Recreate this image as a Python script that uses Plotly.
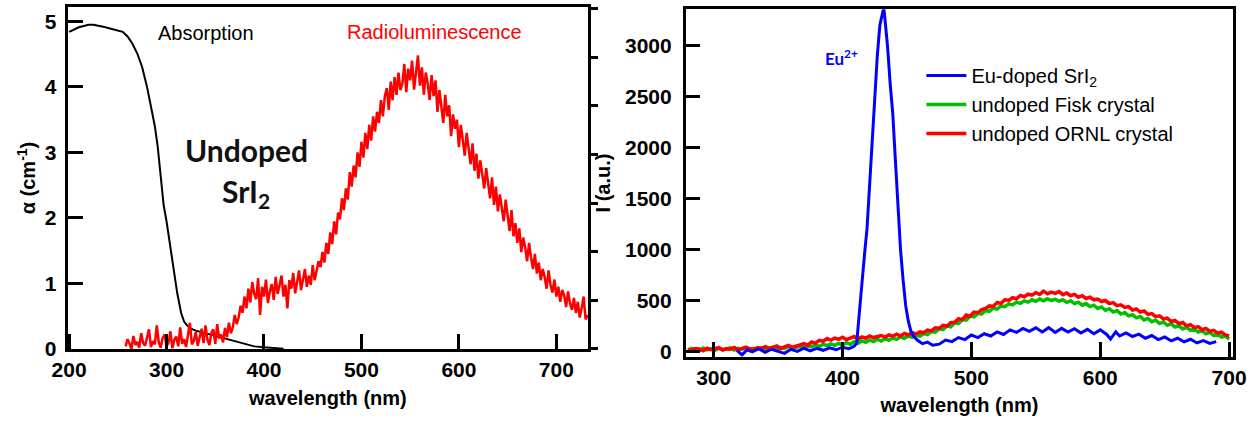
import plotly.graph_objects as go

# ---------------- Left panel data ----------------
abs_wl = [200, 205, 210, 215, 220, 225, 230, 235, 240, 245, 250, 255, 260, 265, 270, 275,
          280, 285, 288, 291, 294, 297, 300, 303, 307, 311, 315, 318, 321, 325, 330, 335,
          340, 345, 350, 360, 370, 380, 390, 400, 410, 420]
abs_alpha = [4.84, 4.88, 4.91, 4.93, 4.95, 4.95, 4.94, 4.92, 4.90, 4.88, 4.87, 4.84, 4.77, 4.66, 4.51, 4.30,
             4.00, 3.65, 3.40, 3.08, 2.60, 2.20, 1.95, 1.65, 1.26, 0.85, 0.55, 0.42, 0.36, 0.31, 0.28, 0.26,
             0.24, 0.22, 0.20, 0.16, 0.11, 0.07, 0.04, 0.025, 0.012, 0.005]

rl_wl = list(range(258, 733, 2))
rl_int = [
    0.04, 0.15, 0.08, 0.00, 0.20, 0.06, 0.11, 0.02, 0.24, 0.09,   # 258-276
    0.05, 0.18, 0.30, 0.03, 0.12, 0.07, 0.36, 0.10, 0.02, 0.17,   # 278-296
    0.22, 0.05, 0.09, 0.27, 0.01, 0.14, 0.19, 0.04, 0.33, 0.08,   # 298-316
    0.15, 0.03, 0.21, 0.40, 0.07, 0.12, 0.26, 0.05, 0.18, 0.31,   # 318-336
    0.09, 0.36, 0.14, 0.06, 0.25, 0.30, 0.08, 0.38, 0.16, 0.22,   # 338-356
    0.10, 0.32, 0.18, 0.40, 0.24, 0.33, 0.52, 0.38, 0.48, 0.66,   # 358-376
    0.55, 0.80, 0.62, 0.92, 0.71, 1.02, 0.84, 0.76, 1.08, 0.52,   # 378-396
    0.95, 0.80, 1.06, 0.70, 0.88, 0.99, 0.75, 1.10, 0.84, 0.96,   # 398-416
    1.12, 0.80, 0.98, 0.62, 1.05, 0.92, 1.16, 0.85, 1.02, 1.20,   # 418-436
    0.90, 1.08, 1.22, 0.95, 1.12, 0.98, 1.28, 1.05, 1.18, 1.34,   # 438-456
    1.25, 1.48, 1.32, 1.62, 1.45, 1.78, 1.60, 1.95, 1.75, 2.08,   # 458-476
    1.98, 2.30, 2.12, 2.45, 2.28, 2.70, 2.48, 2.80, 2.62, 3.00,   # 478-496
    2.78, 3.16, 2.92, 3.30, 3.05, 3.42, 3.18, 3.55, 3.32, 3.62,   # 498-516
    3.45, 3.80, 3.55, 3.86, 3.98, 3.65, 4.08, 3.80, 4.15, 3.88,   # 518-536
    4.22, 3.95, 4.05, 4.35, 3.92, 4.28, 4.10, 4.40, 3.96, 4.25,   # 538-556
    4.48, 4.02, 4.30, 3.88, 4.22, 4.05, 3.80, 4.18, 3.86, 4.10,   # 558-576
    3.62, 3.95, 3.70, 3.45, 3.88, 3.55, 3.72, 3.25, 3.58, 3.36,   # 578-596
    3.50, 3.08, 3.42, 3.18, 2.95, 3.30, 3.06, 2.82, 3.14, 2.72,   # 598-616
    2.98, 2.60, 2.88, 2.70, 2.45, 2.76, 2.52, 2.30, 2.62, 2.20,   # 618-636
    2.48, 2.10, 2.36, 2.18, 1.95, 2.28, 2.02, 1.80, 2.12, 1.72,   # 638-656
    1.92, 1.62, 1.84, 1.48, 1.70, 1.55, 1.34, 1.62, 1.40, 1.22,   # 658-676
    1.45, 1.15, 1.32, 1.05, 1.22, 1.10, 0.92, 1.20, 0.98, 0.86,   # 678-696
    1.06, 0.80, 0.95, 0.72, 0.90, 0.82, 0.64, 0.88, 0.70, 0.60,   # 698-716
    0.78, 0.55, 0.72, 0.48, 0.62, 0.80, 0.45, 0.52,               # 718-732
]

# ---------------- Right panel data ----------------
und_wl = list(range(280, 701, 3))
ornl_int = [
    18, 10, 28, 22, 5, 30, 15, 24, 35, 12,
    26, 20, 38, 15, 30, 42, 25, 18, 36, 28,
    45, 30, 38, 52, 28, 44, 58, 40, 55, 62,
    75, 60, 92, 80, 108, 98, 125, 110, 130, 118,
    138, 115, 130, 145, 120, 142, 128, 150, 135, 145,
    155, 140, 160, 148, 168, 150, 175, 160, 182, 170,
    190, 182, 208, 200, 230, 225, 255, 248, 280, 285,
    320, 310, 355, 345, 385, 378, 410, 420, 445, 440,
    480, 470, 505, 500, 525, 515, 548, 535, 560, 550,
    575, 558, 590, 565, 580, 568, 585, 555, 572, 545,
    558, 530, 545, 518, 530, 505, 512, 488, 498, 468,
    478, 448, 455, 430, 438, 405, 415, 385, 395, 362,
    370, 340, 348, 318, 325, 292, 302, 272, 282, 250,
    262, 232, 242, 212, 225, 195, 205, 178, 188, 160,
    150,
]
fisk_int = [
    12, 28, 20, 8, 32, 15, 25, 10, 30, 18,
    22, 35, 12, 28, 20, 38, 15, 30, 24, 36,
    18, 32, 40, 22, 38, 28, 45, 30, 42, 50,
    35, 55, 45, 62, 48, 70, 55, 72, 58, 78,
    62, 85, 70, 95, 78, 102, 88, 110, 95, 118,
    100, 125, 108, 132, 118, 140, 128, 150, 138, 162,
    148, 175, 165, 195, 188, 220, 212, 248, 240, 280,
    272, 312, 305, 345, 338, 372, 365, 400, 392, 425,
    415, 445, 438, 465, 455, 482, 470, 495, 482, 505,
    490, 512, 495, 515, 498, 510, 492, 505, 480, 495,
    468, 482, 452, 468, 438, 452, 420, 435, 402, 418,
    385, 400, 365, 380, 348, 360, 328, 342, 308, 322,
    290, 305, 272, 288, 255, 270, 238, 252, 220, 235,
    205, 218, 188, 200, 172, 185, 155, 168, 140, 150,
    120,
]
eu_wl = [318, 322, 326, 330, 335, 340, 345, 350, 355, 360, 365, 370, 375, 380, 385, 390,
         395, 400, 405, 409, 411, 413, 415, 417, 419, 421, 423, 425, 427, 429, 431, 432,
         433, 435, 437, 439, 441, 443, 445, 447, 449, 451, 453, 455, 458, 462, 466, 470,
         475, 480, 485, 490, 495, 500, 505, 510, 515, 520, 525, 530, 535, 540, 545, 550,
         555, 560, 565, 570, 575, 580, 585, 590, 595, 600, 605, 608, 612, 615, 620, 625,
         630, 635, 640, 645, 650, 655, 660, 665, 670, 675, 680, 685, 690]
eu_int = [10, -35, 15, -5, 25, -10, 20, 0, -20, 20, 0, 30, 5, 30, 10, 35,
          15, 40, 25, 50, 80, 370, 690, 940, 1200, 1650, 2070, 2420, 2900, 3200, 3340, 3370,
          3250, 2980, 2620, 2330, 1880, 1450, 1000, 700, 450, 300, 200, 150, 110, 75, 90, 60,
          70, 110, 95, 135, 115, 160, 135, 172, 150, 190, 165, 210, 185, 225, 195, 230,
          190, 232, 185, 225, 188, 222, 180, 215, 172, 210, 165, 120, 190, 150, 180, 145,
          168, 128, 155, 115, 140, 102, 128, 92, 118, 82, 105, 78, 95]

FONT = "Liberation Sans"
fig = go.Figure()

# Left panel
fig.add_trace(go.Scatter(x=abs_wl, y=abs_alpha, mode="lines", line=dict(color="black", width=2),
                         xaxis="x", yaxis="y", showlegend=False))
fig.add_trace(go.Scatter(x=rl_wl, y=rl_int, mode="lines", line=dict(color="#ff0000", width=2.5),
                         xaxis="x", yaxis="y2", showlegend=False))

# Right panel
fig.add_trace(go.Scatter(x=und_wl, y=fisk_int, mode="lines", name="undoped Fisk crystal",
                         line=dict(color="#00c000", width=3.5), xaxis="x2", yaxis="y3", legendrank=2))
fig.add_trace(go.Scatter(x=und_wl, y=ornl_int, mode="lines", name="undoped ORNL crystal",
                         line=dict(color="#ff0000", width=3.5), xaxis="x2", yaxis="y3", legendrank=3))
fig.add_trace(go.Scatter(x=eu_wl, y=eu_int, mode="lines", name="Eu-doped SrI<sub>2</sub>",
                         line=dict(color="#0000ff", width=3), xaxis="x2", yaxis="y3", legendrank=1))

tickfont = dict(family=FONT, size=21, color="black", weight="bold")
titlefont = dict(family=FONT, size=20, color="black", weight="bold")
common = dict(showgrid=False, zeroline=False, showline=True, linecolor="black", linewidth=3,
              tickcolor="black", tickwidth=2.5, tickfont=tickfont, automargin=False)

fig.update_layout(
    width=1257, height=424,
    margin=dict(l=0, r=0, t=0, b=0),
    paper_bgcolor="white", plot_bgcolor="white",
    font=dict(family=FONT, color="black"),
    xaxis=dict(domain=[0.0538, 0.4678], range=[198.5, 732.5], tick0=200, dtick=100,
               ticks="inside", ticklen=15, mirror=True, anchor="y",
               title=dict(text="wavelength (nm)", font=titlefont, standoff=11), **common),
    yaxis=dict(domain=[0.1769, 0.9835], range=[0, 5.22], tick0=0, dtick=1,
               ticks="inside", ticklen=15, anchor="x", ticklabelstandoff=4,
               title=dict(text="α (cm<sup>-1</sup>)", font=titlefont, standoff=4), **common),
    yaxis2=dict(overlaying="y", side="right", anchor="x", range=[0, 5.22], tick0=0, dtick=0.742,
                ticks="outside", ticklen=7, showticklabels=False, **common),
    xaxis2=dict(domain=[0.5457, 0.9809], range=[278.5, 703], tick0=300, dtick=100,
                ticks="inside", ticklen=15, mirror=True, anchor="y3",
                title=dict(text="wavelength (nm)", font=titlefont, standoff=11), **common),
    yaxis3=dict(domain=[0.1587, 0.978], range=[-53, 3353], tick0=0, dtick=500,
                ticks="inside", ticklen=14, mirror=True, anchor="x2", ticklabelstandoff=7,
                title=dict(text="I (a.u.)", font=titlefont, standoff=10), **common),
    legend=dict(x=0.733, y=0.868, xanchor="left", yanchor="top", bgcolor="rgba(0,0,0,0)",
                font=dict(family=FONT, size=20, color="black"), itemwidth=40,
                traceorder="normal"),
    showlegend=True,
)

ann = [
    dict(text="Absorption", x=341, y=4.82, xref="x", yref="y",
         font=dict(family=FONT, size=20, color="black")),
    dict(text="Radioluminescence", x=575, y=4.84, xref="x", yref="y",
         font=dict(family=FONT, size=20, color="#ff0000")),
    dict(text="<b>Undoped</b>", x=382, y=3.04, xref="x", yref="y",
         font=dict(family="Lato", size=30, color="#111111")),
    dict(text="<b>SrI<sub>2</sub></b>", x=382, y=2.38, xref="x", yref="y",
         font=dict(family="Lato", size=30, color="#111111")),
    dict(text="<b>Eu<sup>2+</sup></b>", x=399, y=2885, xref="x2", yref="y3",
         font=dict(family="Lato", size=17, color="#0000ff")),
]
for a in ann:
    a["showarrow"] = False
    fig.add_annotation(**a)

fig.write_html("out.html", config={"displayModeBar": False},
               post_script="document.body.style.margin='0px';document.body.style.overflow='hidden';")
